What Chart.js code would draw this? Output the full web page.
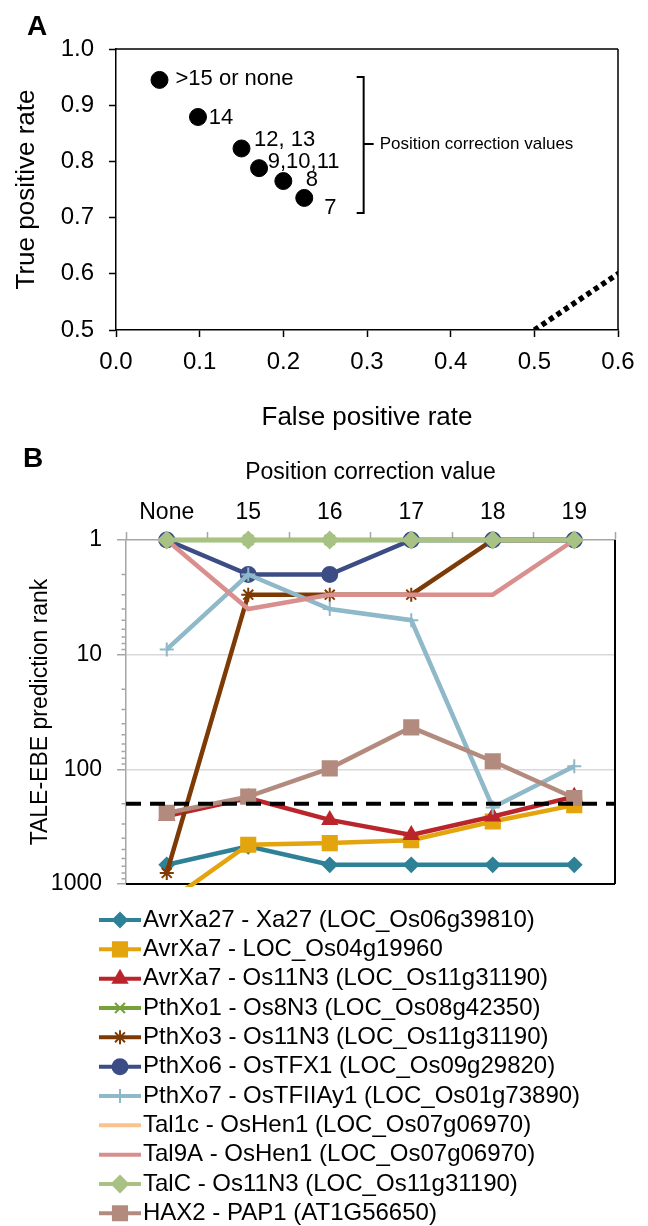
<!DOCTYPE html>
<html>
<head>
<meta charset="utf-8">
<script src="https://cdn.jsdelivr.net/npm/chart.js@4.4.1/dist/chart.umd.min.js"></script>
<style>
  html, body { margin: 0; padding: 0; background: #fff; }
  #wrap { position: relative; width: 648px; height: 1226px; }
  canvas { position: absolute; left: 0; }
  #roc { top: 0; }
  #rank { top: 440px; }
</style>
</head>
<body>
<div id="wrap">
  <canvas id="roc" width="648" height="440"></canvas>
  <canvas id="rank" width="648" height="786"></canvas>
</div>
<script>
'use strict';

/* ---- Panel A: ROC points per position correction value ---- */
const FPR = [0.052, 0.098, 0.150, 0.171, 0.200, 0.225];
const TPR = [0.945, 0.879, 0.823, 0.788, 0.765, 0.735];
const POINT_LABELS = ['>15 or none', '14', '12, 13', '9,10,11', '8', '7'];
const DIAGONAL = [0, 1];

/* ---- Panel B: prediction rank per position correction value ---- */
const CORRECTION = ['None', '15', '16', '17', '18', '19'];
const SERIES_NAMES = [
  'AvrXa27 - Xa27 (LOC_Os06g39810)',
  'AvrXa7 - LOC_Os04g19960',
  'AvrXa7 - Os11N3 (LOC_Os11g31190)',
  'PthXo1 - Os8N3 (LOC_Os08g42350)',
  'PthXo3 - Os11N3 (LOC_Os11g31190)',
  'PthXo6 - OsTFX1 (LOC_Os09g29820)',
  'PthXo7 - OsTFIIAy1 (LOC_Os01g73890)',
  'Tal1c - OsHen1 (LOC_Os07g06970)',
  'Tal9A - OsHen1 (LOC_Os07g06970)',
  'TalC - Os11N3 (LOC_Os11g31190)',
  'HAX2 - PAP1 (AT1G56650)'
];
const AVRXA27_XA27     = [680, 470, 680, 680, 680, 680];
const AVRXA7_OS04G     = [1450, 455, 440, 415, 285, 205];
const AVRXA7_OS11N3    = [255, 178, 276, 373, 258, 173];
const PTHXO1_OS8N3     = [1, 1, 1, 1, 1, 1];
const PTHXO3_OS11N3    = [800, 3, 3, 3, 1, 1];
const PTHXO6_OSTFX1    = [1, 2, 2, 1, 1, 1];
const PTHXO7_OSTFIIAY1 = [9, 2, 4, 5, 215, 94];
const TAL1C_OSHEN1     = [null, null, null, null, null, null];
const TAL9A_OSHEN1     = [1, 4, 3, 3, 3, 1];
const TALC_OS11N3      = [1, 1, 1, 1, 1, 1];
const HAX2_PAP1        = [240, 173, 98, 43, 85, 178];
const SERIES_VALUES = [AVRXA27_XA27, AVRXA7_OS04G, AVRXA7_OS11N3, PTHXO1_OS8N3, PTHXO3_OS11N3,
  PTHXO6_OSTFX1, PTHXO7_OSTFIIAY1, TAL1C_OSHEN1, TAL9A_OSHEN1, TALC_OS11N3, HAX2_PAP1];
const RANK_TICKS = [1, 10, 100, 1000];
const CUTOFF_RANK = 200;

const FONT = '"Liberation Sans", Arial, Helvetica, sans-serif';
Chart.defaults.font.family = FONT;
Chart.defaults.color = '#000';

// colour / marker per series, same order as SERIES_NAMES
const STYLES = [
  { color: '#2E8197', point: 'rectRot',  r: 7 },
  { color: '#E3A40E', point: 'rect',     r: 10 },
  { color: '#B9252B', point: 'triangle', r: 8 },
  { color: '#76A03A', point: 'crossRot', r: 7 },
  { color: '#7E3A04', point: 'star',     r: 7 },
  { color: '#3C4D85', point: 'circle',   r: 7.5 },
  { color: '#8FB8C8', point: 'cross',    r: 7 },
  { color: '#FAC28C', point: false,      r: 0 },
  { color: '#D98F8E', point: false,      r: 0 },
  { color: '#A7C283', point: 'rectRot',  r: 8 },
  { color: '#B38B7E', point: 'rect',     r: 10 }
];

/* ---- small drawing plugins ---- */
const panelLetter = {
  id: 'panelLetter',
  afterDraw(chart, args, o) {
    const { ctx } = chart;
    ctx.save();
    ctx.font = 'bold 28px ' + FONT;
    ctx.fillStyle = '#000';
    ctx.textBaseline = 'alphabetic';
    ctx.fillText(o.text, o.x, o.y);
    ctx.restore();
  }
};

const frame = {
  id: 'frame',
  beforeDatasetsDraw(chart, args, o) {
    const { ctx, chartArea: a } = chart;
    ctx.save();
    ctx.strokeStyle = o.color;
    ctx.lineWidth = o.width;
    ctx.beginPath();
    (o.sides || []).forEach(s => {
      if (s === 'top')    { ctx.moveTo(a.left, a.top);    ctx.lineTo(a.right, a.top); }
      if (s === 'right')  { ctx.moveTo(a.right, a.top);   ctx.lineTo(a.right, a.bottom); }
      if (s === 'bottom') { ctx.moveTo(a.left, a.bottom); ctx.lineTo(a.right, a.bottom); }
    });
    ctx.stroke();
    ctx.restore();
  }
};

// point labels and the bracket in panel A
const rocNotes = {
  id: 'rocNotes',
  afterDatasetsDraw(chart, args, o) {
    const { ctx, scales: { x, y } } = chart;
    const pts = chart.getDatasetMeta(0).data;
    ctx.save();
    ctx.fillStyle = '#000';
    ctx.font = '22px ' + FONT;
    ctx.textBaseline = 'middle';
    ctx.textAlign = 'left';
    POINT_LABELS.forEach((t, i) => {
      const [dx, dy] = o.offsets[i];
      ctx.fillText(t, pts[i].x + dx, pts[i].y + dy);
    });
    // bracket
    const bx = x.getPixelForValue(o.bracket.x);
    const top = y.getPixelForValue(o.bracket.top);
    const bot = y.getPixelForValue(o.bracket.bottom);
    const mid = y.getPixelForValue(o.bracket.mid);
    ctx.strokeStyle = '#000';
    ctx.lineWidth = 2;
    ctx.beginPath();
    ctx.moveTo(bx - 7, top); ctx.lineTo(bx, top); ctx.lineTo(bx, bot); ctx.lineTo(bx - 7, bot);
    ctx.moveTo(bx, mid); ctx.lineTo(bx + 10, mid);
    ctx.stroke();
    ctx.font = '17px ' + FONT;
    ctx.fillText(o.bracket.text, bx + 16, mid);
    ctx.restore();
  }
};

// minor log ticks, cutoff line and the legend for panel B
const rankExtras = {
  id: 'rankExtras',
  beforeDatasetsDraw(chart) {
    const { ctx, scales: { y } } = chart;
    ctx.save();
    ctx.strokeStyle = '#A6A6A6';
    ctx.lineWidth = 1.5;
    ctx.beginPath();
    y.ticks.forEach(t => {
      const p = Math.pow(10, Math.floor(Math.log10(t.value) + 1e-9));
      const sig = t.value / p;
      if (sig > 1.5 && Math.abs(sig - Math.round(sig)) < 1e-6) {
        const py = y.getPixelForValue(t.value);
        ctx.moveTo(y.right - 4.5, py); ctx.lineTo(y.right, py);
      }
    });
    ctx.stroke();
    ctx.restore();
  },
  afterDatasetsDraw(chart, args, o) {
    const { ctx, chartArea: a, scales: { y } } = chart;
    const py = y.getPixelForValue(CUTOFF_RANK);
    ctx.save();
    ctx.strokeStyle = '#000';
    ctx.lineWidth = 4;
    ctx.setLineDash([15, 9]);
    ctx.beginPath();
    ctx.moveTo(a.left, py); ctx.lineTo(a.right, py);
    ctx.stroke();
    ctx.restore();
  },
  afterDraw(chart, args, o) {
    const { ctx } = chart;
    ctx.save();
    ctx.font = o.fontSize + 'px ' + FONT;
    ctx.textBaseline = 'middle';
    ctx.textAlign = 'left';
    chart.data.datasets.forEach((ds, i) => {
      const st = STYLES[i];
      const ly = o.top + i * o.step;
      ctx.strokeStyle = st.color;
      ctx.fillStyle = st.color;
      ctx.lineWidth = 4;
      ctx.beginPath();
      ctx.moveTo(o.x0, ly); ctx.lineTo(o.x1, ly);
      ctx.stroke();
      if (st.point) {
        ctx.lineWidth = 2;
        Chart.helpers.drawPoint(ctx, { pointStyle: st.point, radius: st.r, borderWidth: 2, rotation: 0 }, (o.x0 + o.x1) / 2, ly);
      }
      ctx.fillStyle = '#000';
      ctx.fillText(ds.label, o.textX, ly);
    });
    ctx.restore();
  }
};

/* ---- Panel A chart ---- */
new Chart(document.getElementById('roc'), {
  type: 'scatter',
  data: {
    datasets: [
      {
        data: FPR.map((v, i) => ({ x: v, y: TPR[i] })),
        pointRadius: 8.5, pointHoverRadius: 8.5,
        backgroundColor: '#000', borderColor: '#000', clip: false
      },
      {
        data: DIAGONAL.map(v => ({ x: v, y: v })),
        showLine: true, pointRadius: 0,
        borderColor: '#000', borderWidth: 5.5, borderDash: [5, 4]
      }
    ]
  },
  options: {
    responsive: false, animation: false,
    layout: { padding: { left: 0, right: 30, top: 49, bottom: 0 } },
    plugins: {
      legend: { display: false }, tooltip: { enabled: false },
      panelLetter: { text: 'A', x: 27, y: 35 },
      frame: { sides: ['top', 'right'], color: '#000', width: 1.5 },
      rocNotes: {
        offsets: [[16, -0.5], [10.7, 1], [12.6, -9], [8.7, -6], [22.5, -1], [20, 10]],
        bracket: { x: 0.296, top: 0.95, bottom: 0.708, mid: 0.831, text: 'Position correction values' }
      }
    },
    scales: {
      x: {
        type: 'linear', min: 0, max: 0.6,
        afterFit: s => { s.height = 110; },
        ticks: { stepSize: 0.1, padding: 10.5, font: { size: 24 }, callback: v => v.toFixed(1) },
        grid: { drawOnChartArea: false, tickLength: 7, tickColor: '#000', tickWidth: 1.5 },
        border: { color: '#000', width: 1.5 },
        title: { display: true, text: 'False positive rate', font: { size: 26 }, padding: { bottom: 6.4 } }
      },
      y: {
        min: 0.5, max: 1.0,
        afterFit: s => { s.width = 116; },
        ticks: { stepSize: 0.1, padding: 15, font: { size: 24 }, callback: v => v.toFixed(1) },
        grid: { drawOnChartArea: false, tickLength: 7, tickColor: '#000', tickWidth: 1.5 },
        border: { color: '#000', width: 1.5 },
        title: { display: true, text: 'True positive rate', font: { size: 26 }, padding: { top: 11.4 } }
      }
    }
  },
  plugins: [panelLetter, frame, rocNotes]
});

/* ---- Panel B chart ---- */
const rankDatasets = SERIES_NAMES.map((name, i) => {
  const st = STYLES[i];
  return {
    label: name,
    data: SERIES_VALUES[i],
    borderColor: st.color,
    backgroundColor: st.color,
    borderWidth: 4.5,
    pointStyle: st.point || 'circle',
    pointRadius: st.r,
    pointHoverRadius: st.r,
    pointBorderWidth: 2,
    order: SERIES_NAMES.length - i,
    clip: { left: 20, right: 20, top: 20, bottom: 3 }
  };
});

new Chart(document.getElementById('rank'), {
  type: 'line',
  data: { labels: CORRECTION, datasets: rankDatasets },
  options: {
    responsive: false, animation: false,
    layout: { padding: { left: 0, right: 33, top: 0, bottom: 342 } },
    plugins: {
      legend: { display: false }, tooltip: { enabled: false },
      panelLetter: { text: 'B', x: 23, y: 27 },
      frame: { sides: ['right', 'bottom'], color: '#000', width: 2 },
      rankExtras: { top: 480, step: 29.33, x0: 99, x1: 141, textX: 143, fontSize: 24 }
    },
    scales: {
      x: {
        position: 'top', offset: true,
        afterFit: s => { s.height = 100; },
        ticks: { padding: 6, font: { size: 23 }, autoSkip: false, maxRotation: 0 },
        grid: { offset: true, drawOnChartArea: false, tickLength: 8, tickColor: '#A6A6A6', tickWidth: 1.5 },
        border: { color: '#A6A6A6', width: 1.5 },
        title: { display: true, text: 'Position correction value', font: { size: 23 }, padding: { top: 19.2 } }
      },
      y: {
        type: 'logarithmic', reverse: true, min: 1, max: 1000,
        afterFit: s => { s.width = 126; },
        ticks: {
          padding: 15, font: { size: 23 }, autoSkip: false,
          callback: v => RANK_TICKS.includes(v) ? String(v) : ''
        },
        grid: {
          tickLength: 9, tickWidth: 1.5, lineWidth: 1.5,
          color: c => (c.tick && [10, 100].includes(c.tick.value)) ? '#D9D9D9' : 'rgba(0,0,0,0)',
          tickColor: c => (c.tick && RANK_TICKS.includes(c.tick.value)) ? '#A6A6A6' : 'rgba(0,0,0,0)'
        },
        border: { color: '#A6A6A6', width: 1.5 },
        title: { display: true, text: 'TALE-EBE prediction rank', font: { size: 23 }, padding: { top: 27 } }
      }
    }
  },
  plugins: [panelLetter, frame, rankExtras]
});
</script>
</body>
</html>
